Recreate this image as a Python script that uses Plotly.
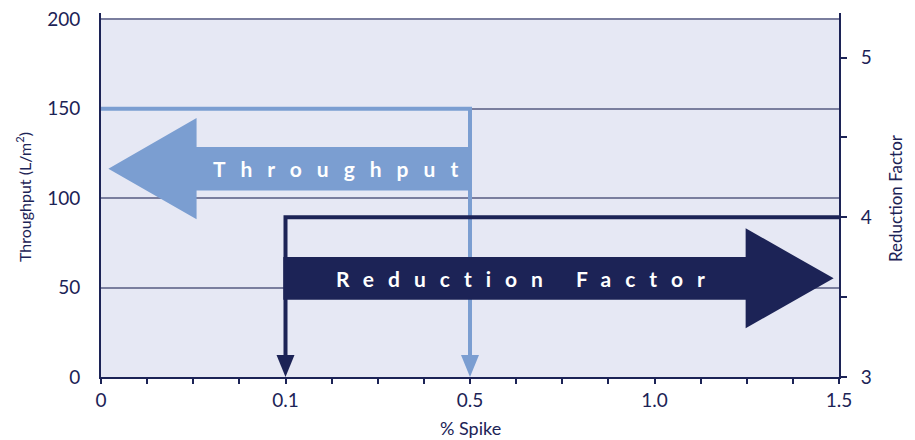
import plotly.graph_objects as go

# Spike levels, shown as equally spaced steps on the x axis
spike_labels = ["0", "0.1", "0.5", "1.0", "1.5"]

throughput_spike = "0.5"
throughput_value = 150

rf_spike = "0.1"
rf_value = 4

throughput_ticks = [0, 50, 100, 150, 200]
rf_ticks = [3, 4, 5]

# ---- styling -------------------------------------------------------------
NAVY = "#1c2356"
LIGHT = "#7b9ed1"
PANEL = "#e6e8f4"
GRID = "#7a7e9e"
FONT = "Lato"

W, H = 915, 440
M_L, M_R, M_T, M_B = 101, 76, 13, 63
plot_w = W - M_L - M_R
plot_h = H - M_T - M_B

y_top = 203.6          # left axis reaches slightly above the 200 gridline
rf_top = 5.279         # right axis top
rf_bottom = 3

x_max = len(spike_labels) - 1
x_pos = list(range(len(spike_labels)))
tx = spike_labels.index(throughput_spike)
rx = spike_labels.index(rf_spike)

# pointer-head size in pixels
HEAD_LEN, HEAD_HALF = 22, 9
y_per_px = y_top / plot_h
rf_per_px = (rf_top - rf_bottom) / plot_h

fig = go.Figure()

# Throughput read-off line: across from the axis, then down to the spike value
fig.add_trace(go.Scatter(
    x=[0, tx, tx],
    y=[throughput_value, throughput_value, HEAD_LEN * y_per_px],
    mode="lines", line=dict(color=LIGHT, width=4),
    hoverinfo="skip", showlegend=False,
))

# Reduction-factor read-off line: from the right axis, then down to the spike value
fig.add_trace(go.Scatter(
    x=[x_max, rx, rx],
    y=[rf_value, rf_value, rf_bottom + HEAD_LEN * rf_per_px],
    yaxis="y2",
    mode="lines", line=dict(color=NAVY, width=4),
    hoverinfo="skip", showlegend=False,
))

shapes = [
    # panel background, only up to the 200 gridline
    dict(type="rect", xref="x", yref="y", x0=0, x1=x_max, y0=0, y1=throughput_ticks[-1],
         fillcolor=PANEL, line=dict(width=0), layer="below"),
]

# downward pointer heads at the bottom of each read-off line
for xi, col in [(tx, LIGHT), (rx, NAVY)]:
    shapes.append(dict(
        type="path", xref="x", yref="y", xsizemode="pixel", ysizemode="pixel",
        xanchor=xi, yanchor=0,
        path=f"M {-HEAD_HALF},{HEAD_LEN} L {HEAD_HALF},{HEAD_LEN} L 0,0 Z",
        fillcolor=col, line=dict(width=0), layer="above",
    ))

# big "Throughput" arrow pointing left (to the throughput axis)
t_tip, t_base = 0.04, 0.518
t_mid, t_shaft, t_head = 116.5, 12.2, 28.3
shapes.append(dict(
    type="path", xref="x", yref="y",
    path=(f"M {t_tip},{t_mid} L {t_base},{t_mid + t_head} L {t_base},{t_mid + t_shaft} "
          f"L {tx},{t_mid + t_shaft} L {tx},{t_mid - t_shaft} L {t_base},{t_mid - t_shaft} "
          f"L {t_base},{t_mid - t_head} Z"),
    fillcolor=LIGHT, line=dict(width=0), layer="above",
))

# big "Reduction Factor" arrow pointing right (to the reduction factor axis)
r_tip, r_base = 3.971, 3.494
r_mid, r_shaft, r_head = 3.618, 0.134, 0.313
shapes.append(dict(
    type="path", xref="x", yref="y2",
    path=(f"M {rx - 0.012},{r_mid + r_shaft} L {r_base},{r_mid + r_shaft} "
          f"L {r_base},{r_mid + r_head} L {r_tip},{r_mid} L {r_base},{r_mid - r_head} "
          f"L {r_base},{r_mid - r_shaft} L {rx - 0.012},{r_mid - r_shaft} Z"),
    fillcolor=NAVY, line=dict(width=0), layer="above",
))


def px_x(px):
    return (px - M_L) / plot_w


def px_y(py):
    return (H - M_B - py) / plot_h


annotations = [
    dict(text='<span style="letter-spacing:15px">Throughput</span>',
         x=1.31, y=t_mid, xref="x", yref="y", showarrow=False,
         xanchor="center", yanchor="middle",
         font=dict(family=FONT, size=21, color="white", weight=700)),
    dict(text='<span style="letter-spacing:14px">Reduction Factor</span>',
         x=2.31, y=r_mid, xref="x", yref="y2", showarrow=False,
         xanchor="center", yanchor="middle",
         font=dict(family=FONT, size=21, color="white", weight=700)),
    dict(text="Throughput (L/m<sup>2</sup>)", textangle=-90,
         x=px_x(23), y=px_y(197), xref="paper", yref="paper",
         xanchor="center", yanchor="middle",
         showarrow=False, font=dict(family=FONT, size=16, color=NAVY)),
    dict(text="Reduction Factor", textangle=-90,
         x=px_x(895), y=px_y(198), xref="paper", yref="paper",
         xanchor="center", yanchor="middle",
         showarrow=False, font=dict(family=FONT, size=17, color=NAVY)),
    dict(text="% Spike",
         x=0.5, y=px_y(428), xref="paper", yref="paper",
         xanchor="center", yanchor="middle",
         showarrow=False, font=dict(family=FONT, size=18, color=NAVY)),
]

tick_font = dict(family=FONT, size=19, color=NAVY)

fig.update_layout(
    width=W, height=H,
    margin=dict(l=M_L, r=M_R, t=M_T, b=M_B, pad=0, autoexpand=False),
    paper_bgcolor="white", plot_bgcolor="white",
    showlegend=False,
    shapes=shapes, annotations=annotations,
    xaxis=dict(
        range=[0, x_max], tickvals=x_pos, ticktext=spike_labels,
        ticks="outside", ticklen=5, tickwidth=1.5, tickcolor=NAVY,
        minor=dict(dtick=0.25, tick0=0, ticks="outside", ticklen=5,
                   tickwidth=1.5, tickcolor=NAVY, showgrid=False),
        showline=True, linecolor=NAVY, linewidth=2,
        showgrid=False, zeroline=False, tickfont=tick_font,
        automargin=False, fixedrange=True,
    ),
    yaxis=dict(
        range=[0, y_top], tickvals=throughput_ticks,
        ticks="", showline=True, linecolor=NAVY, linewidth=2,
        showgrid=True, gridcolor=GRID, gridwidth=1.5,
        zeroline=False, tickfont=tick_font, ticklabelstandoff=15,
        automargin=False, fixedrange=True,
    ),
    yaxis2=dict(
        overlaying="y", side="right",
        range=[rf_bottom, rf_top], tickvals=rf_ticks,
        ticks="outside", ticklen=6, tickwidth=1.5, tickcolor=NAVY,
        minor=dict(dtick=0.5, tick0=3, ticks="outside", ticklen=6,
                   tickwidth=1.5, tickcolor=NAVY, showgrid=False),
        showline=True, linecolor=NAVY, linewidth=2,
        showgrid=False, zeroline=False, tickfont=tick_font, ticklabelstandoff=10,
        automargin=False, fixedrange=True,
    ),
)

fig.write_html("out.html")
